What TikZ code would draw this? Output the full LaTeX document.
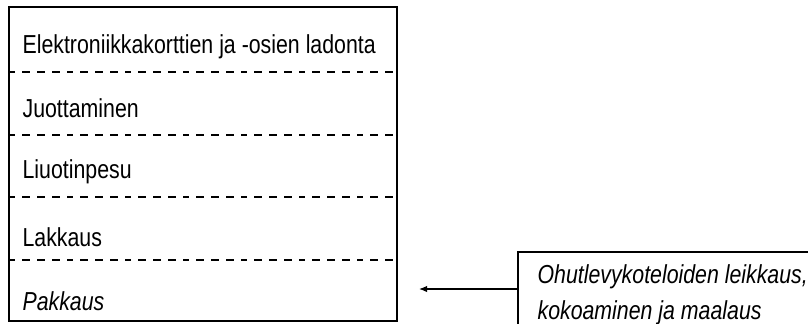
\documentclass[tikz,border=0pt]{standalone}
\usepackage{fontspec}
\setmainfont{Liberation Sans}[FakeStretch=0.82]
\usetikzlibrary{arrows.meta}
\begin{document}
\begin{tikzpicture}[x=0.5pt,y=-0.5pt,line width=0.6pt,
  steptext/.style={anchor=base west,inner sep=0pt,font=\fontsize{13}{15}\selectfont}]
  \clip (0,0) rectangle (808,323);
  % vaiheet
  \draw (9,7) rectangle (397,321);
  \foreach \y in {72,135,197,260}
    \draw[dashed,dash pattern=on 3pt off 3.5pt on 4pt off 3.5pt on 4pt off 3.5pt on 4pt off 3.5pt] (9,\y) -- (397,\y);
  \node[steptext] (ladonta) at (22,53) {Elektroniikkakorttien ja -osien ladonta};
  \node[steptext] (juotto) at (22,117) {Juottaminen};
  \node[steptext] (pesu) at (22,178) {Liuotinpesu};
  \node[steptext] (lakkaus) at (22,246) {Lakkaus};
  \node[steptext] (pakkaus) at (22,310) {\itshape Pakkaus};
  % alihankinta
  \draw (518,340) |- (820,252);
  \node[steptext] (kotelo) at (537,283) {\itshape Ohutlevykoteloiden leikkaus,};
  \node[steptext] (maalaus) at (537,319) {\itshape kokoaminen ja maalaus};
  \coordinate (boxin) at (518,289);
  \coordinate (tip) at (419,289);
  \draw[-{Latex[length=4pt,width=3.2pt]}] (boxin) -- (tip);
\end{tikzpicture}
\end{document}
